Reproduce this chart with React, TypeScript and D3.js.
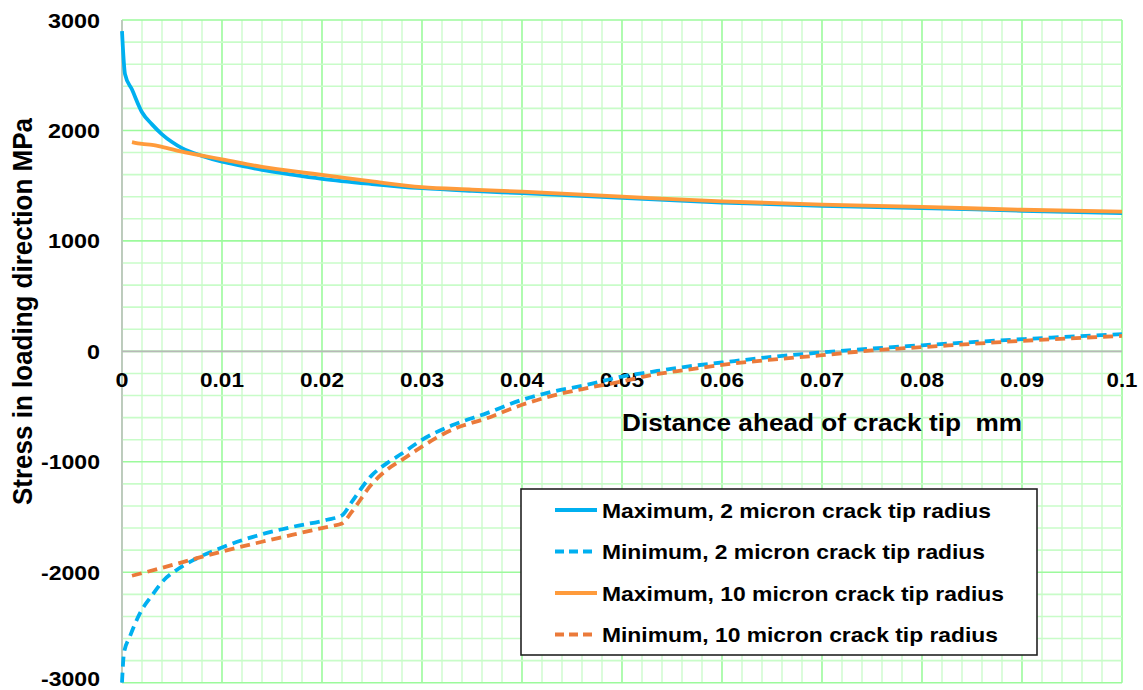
import React from "react";
import * as d3 from "d3";

const xTicks = [0, 0.01, 0.02, 0.03, 0.04, 0.05, 0.06, 0.07, 0.08, 0.09, 0.1];
const xTickLabels = ["0", "0.01", "0.02", "0.03", "0.04", "0.05", "0.06", "0.07", "0.08", "0.09", "0.1"];
const yTicks = [3000, 2000, 1000, 0, -1000, -2000, -3000];
const yTickLabels = ["3000", "2000", "1000", "0", "-1000", "-2000", "-3000"];

const xMax2 = [0, 0.0003, 0.001, 0.002, 0.003, 0.004, 0.005, 0.006, 0.008, 0.01, 0.012, 0.014, 0.017, 0.02, 0.025, 0.03, 0.035, 0.04, 0.05, 0.06, 0.07, 0.08, 0.09, 0.1];
const yMax2 = [2900, 2510, 2370, 2165, 2055, 1965, 1895, 1840, 1770, 1718, 1680, 1643, 1600, 1562, 1515, 1477, 1452, 1432, 1389, 1347, 1318, 1298, 1273, 1251];

const xMin2 = [0, 0.0002, 0.0008, 0.0018, 0.003, 0.0042, 0.0055, 0.0072, 0.01, 0.014, 0.017, 0.0205, 0.022, 0.023, 0.025, 0.0265, 0.028, 0.03, 0.033, 0.0365, 0.04, 0.043, 0.0465, 0.05, 0.053, 0.0565, 0.06, 0.065, 0.07, 0.075, 0.08, 0.09, 0.1];
const yMin2 = [-3000, -2730, -2580, -2370, -2210, -2070, -1977, -1887, -1775, -1656, -1590, -1525, -1485, -1360, -1120, -1012, -925, -801, -670, -559, -439, -366, -303, -228, -185, -138, -101, -50, -10, 25, 55, 110, 156];

const xMax10 = [0.001, 0.002, 0.003, 0.004, 0.006, 0.008, 0.01, 0.014, 0.018, 0.02, 0.025, 0.03, 0.035, 0.04, 0.05, 0.06, 0.07, 0.08, 0.09, 0.1];
const yMax10 = [1895, 1878, 1870, 1852, 1808, 1772, 1739, 1670, 1620, 1598, 1538, 1486, 1465, 1446, 1401, 1358, 1328, 1308, 1282, 1265];

const xMin10 = [0.001, 0.004, 0.007, 0.01, 0.014, 0.017, 0.019, 0.021, 0.022, 0.023, 0.025, 0.0265, 0.028, 0.03, 0.033, 0.0365, 0.04, 0.043, 0.0465, 0.05, 0.053, 0.0565, 0.06, 0.065, 0.07, 0.075, 0.08, 0.09, 0.1];
const yMin10 = [-2032, -1960, -1885, -1812, -1724, -1662, -1620, -1580, -1558, -1450, -1200, -1072, -982, -862, -710, -605, -484, -403, -333, -273, -213, -167, -122, -75, -35, 8, 38, 95, 140];

const seriesNames = [
  "Maximum, 2 micron crack tip radius",
  "Minimum, 2 micron crack tip radius",
  "Maximum, 10 micron crack tip radius",
  "Minimum, 10 micron crack tip radius",
];
const legendTextWidths = [389, 383, 402, 396];

const FONT = "'Liberation Sans', Arial, sans-serif";

const labelWidth = (s: string) =>
  s.split("").reduce((w, c) => w + (c === "." ? 5 : c === "-" ? 7 : 13), 0);

export default function App() {
  const left = 122, right = 1122, top = 20, bottom = 682.7;
  const x = d3.scaleLinear().domain([0, 0.1]).range([left, right]);
  const y = d3.scaleLinear().domain([-3000, 3000]).range([bottom, top]);

  const line = d3
    .line<[number, number]>()
    .x((d) => x(d[0]))
    .y((d) => y(d[1]))
    .curve(d3.curveMonotoneX);

  const zip = (xs: number[], ys: number[]) => xs.map((v, i) => [v, ys[i]] as [number, number]);

  const series = [
    { data: zip(xMax2, yMax2), color: "#00B0F0", dash: "" },
    { data: zip(xMin2, yMin2), color: "#00B0F0", dash: "10,6" },
    { data: zip(xMax10, yMax10), color: "#FF9B3B", dash: "" },
    { data: zip(xMin10, yMin10), color: "#EB7A3A", dash: "10,6" },
  ];

  const minorX = d3.range(0, 51).map((i) => i * 0.002);
  const minorY = d3.range(0, 31).map((i) => -3000 + i * 200);

  return (
    <svg
      width={1143}
      height={690}
      style={{ position: "absolute", left: 0, top: 0, background: "#fff" }}
      fontFamily={FONT}
    >
      {minorX.map((v, i) => (
        <line key={"mx" + i} x1={x(v)} x2={x(v)} y1={top} y2={bottom} stroke={i % 5 === 0 ? "#9CFA9C" : "#D2FCD2"} strokeWidth={1.6} />
      ))}
      {minorY.map((v, i) => (
        <line key={"my" + i} x1={left} x2={right} y1={y(v)} y2={y(v)} stroke={i % 5 === 0 ? "#9CFA9C" : "#C8FCC8"} strokeWidth={1.6} />
      ))}
      <line x1={left} x2={left} y1={top} y2={bottom} stroke="#C0C0C0" strokeWidth={1.6} />
      <line x1={left} x2={right} y1={y(0)} y2={y(0)} stroke="#B8B8B8" strokeWidth={1.6} />

      {yTicks.map((v, i) => (
        <text key={"yt" + i} x={100} y={Math.min(y(v), 678)} textAnchor="end" dominantBaseline="central" fontSize={21} fontWeight="bold" fill="#000" textLength={labelWidth(yTickLabels[i])} lengthAdjust="spacingAndGlyphs">
          {yTickLabels[i]}
        </text>
      ))}
      {xTicks.map((v, i) => (
        <text key={"xt" + i} x={x(v)} y={387} textAnchor="middle" fontSize={21} fontWeight="bold" fill="#000" textLength={labelWidth(xTickLabels[i])} lengthAdjust="spacingAndGlyphs">
          {xTickLabels[i]}
        </text>
      ))}

      <text x={622} y={431} fontSize={23} fontWeight="bold" fill="#000" textLength={400} lengthAdjust="spacingAndGlyphs" style={{ whiteSpace: "pre" }}>
        {"Distance ahead of crack tip  mm"}
      </text>
      <text
        transform={`translate(32, 311.5) rotate(-90)`}
        textAnchor="middle"
        fontSize={28}
        fontWeight="bold"
        fill="#000"
        textLength={387}
        lengthAdjust="spacingAndGlyphs"
      >
        Stress in loading direction MPa
      </text>

      {series.map((s, i) => (
        <path key={"s" + i} d={line(s.data) || ""} fill="none" stroke={s.color} strokeWidth={3.8} strokeDasharray={s.dash} strokeLinejoin="round" />
      ))}

      <rect x={521} y={489} width={516} height={166} fill="#fff" stroke="#222" strokeWidth={1.6} />
      {series.map((s, i) => {
        const ly = 510 + i * 41.5;
        return (
          <g key={"lg" + i}>
            <line x1={555} x2={597} y1={ly} y2={ly} stroke={s.color} strokeWidth={3.8} strokeDasharray={s.dash ? "9,5" : ""} />
            <text x={602} y={ly} dominantBaseline="central" fontSize={21} fontWeight="bold" fill="#000" textLength={legendTextWidths[i]} lengthAdjust="spacingAndGlyphs">
              {seriesNames[i]}
            </text>
          </g>
        );
      })}
    </svg>
  );
}
